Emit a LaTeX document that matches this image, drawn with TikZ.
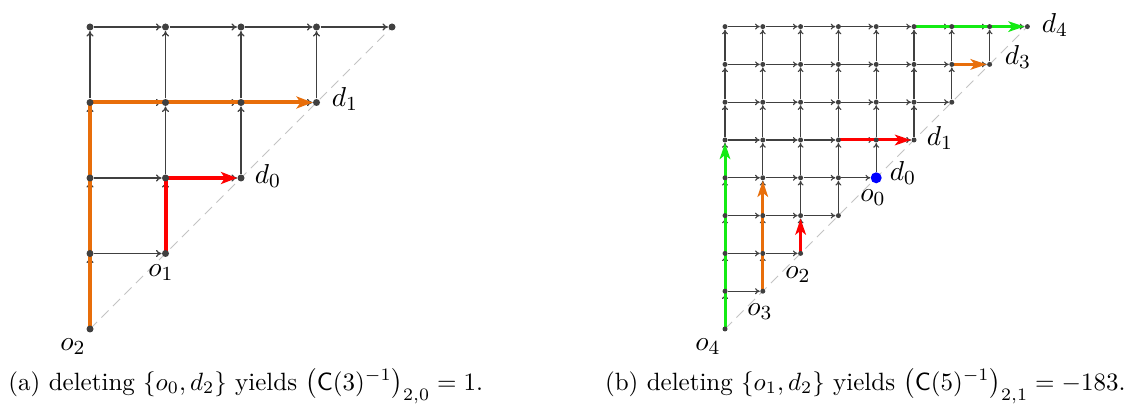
\documentclass[tikz,border=0pt]{standalone}
\usetikzlibrary{arrows.meta}
\pgfdeclarelayer{bg}
\pgfsetlayers{bg,main}
\definecolor{edgegray}{RGB}{64,64,64}
\definecolor{diaggray}{RGB}{195,195,195}
\definecolor{myorange}{RGB}{232,110,10}
\definecolor{mygreen}{RGB}{20,235,20}
\begin{document}
\begin{tikzpicture}[x=0.4pt,y=-0.4pt,
  dotL/.style={circle, fill=edgegray, inner sep=0pt, minimum size=2.8pt},
  dotR/.style={circle, fill=edgegray, inner sep=0pt, minimum size=2pt},
  bluedot/.style={circle, fill=blue, inner sep=0pt, minimum size=4.4pt},
  edgeL/.style={draw=edgegray, line width=0.5pt, -{To[length=2.2pt,width=2.8pt]}},
  edgeR/.style={draw=edgegray, line width=0.45pt, -{To[length=1.9pt,width=2.4pt]}},
  pathL/.style={line width=1.6pt, -{Stealth[length=6.4pt,width=4.8pt,inset=1.6pt]}},
  pathR/.style={line width=1.2pt, -{Stealth[length=6.4pt,width=4.2pt,inset=1.6pt]}},
  diag/.style={draw=diaggray, line width=0.4pt, dash pattern=on 4pt off 2.5pt},
  lab/.style={inner sep=0pt, font=\fontsize{11}{13}\selectfont},
  captext/.style={inner sep=0pt, font=\fontsize{10}{12}\selectfont}
]
\useasboundingbox (0,0) rectangle (1133,405);
% ---------- left panel ----------
\foreach \j in {0,...,4}{
  \foreach \i in {0,...,\j}{
    \node[dotL] (L-\i-\j) at ({90+75.5*\i},{329-75.5*\j}) {};
  }
}
% ---------- right panel ----------
\foreach \j in {0,...,8}{
  \foreach \i in {0,...,\j}{
    \node[dotR] (R-\i-\j) at ({725+37.8*\i},{329-37.8*\j}) {};
  }
}
\node[bluedot] (R-4-4) at ({725+37.8*4},{329-37.8*4}) {};

\begin{pgfonlayer}{bg}
  \draw[diag] (L-0-0.center) -- (L-4-4.center);
  \draw[diag] (R-0-0.center) -- (R-8-8.center);
  \foreach \j in {1,...,4}{
    \pgfmathtruncatemacro{\jm}{\j-1}
    \foreach \i in {0,...,\jm}{
      \pgfmathtruncatemacro{\ip}{\i+1}
      \draw[edgeL] (L-\i-\j) -- (L-\ip-\j);
      \draw[edgeL] (L-\i-\jm) -- (L-\i-\j);
    }
  }
  \foreach \j in {1,...,8}{
    \pgfmathtruncatemacro{\jm}{\j-1}
    \foreach \i in {0,...,\jm}{
      \pgfmathtruncatemacro{\ip}{\i+1}
      \draw[edgeR] (R-\i-\j) -- (R-\ip-\j);
      \draw[edgeR] (R-\i-\jm) -- (R-\i-\j);
    }
  }
  % coloured paths
  \draw[pathL, myorange] (L-0-0.center) |- (L-3-3);
  \draw[pathL, red] (L-1-1.center) |- (L-2-2);
  \draw[pathR, mygreen] (R-0-0.center) -- (R-0-5);
  \draw[pathR, mygreen] (R-5-8.center) -- (R-8-8);
  \draw[pathR, myorange] (R-1-1.center) -- (R-1-4);
  \draw[pathR, myorange] (R-6-7.center) -- (R-7-7);
  \draw[pathR, red] (R-2-2.center) -- (R-2-3);
  \draw[pathR, red] (R-3-5.center) -- (R-5-5);
\end{pgfonlayer}

% labels left
\node[lab] (lo2) at (73,347) {$o_2$};
\node[lab] (lo1) at (161,273) {$o_1$};
\node[lab] (ld0) at (268,176) {$d_0$};
\node[lab] (ld1) at (345,99) {$d_1$};
% labels right
\node[lab] (rd4) at (1055,25) {$d_4$};
\node[lab] (rd3) at (1018,57) {$d_3$};
\node[lab] (rd1) at (940,138) {$d_1$};
\node[lab] (rd0) at (903,173) {$d_0$};
\node[lab] (ro0) at (873,198) {$o_0$};
\node[lab] (ro2) at (798,275) {$o_2$};
\node[lab] (ro3) at (760,312) {$o_3$};
\node[lab] (ro4) at (708,347) {$o_4$};

% captions
\node[captext, anchor=base west] (capA) at (8,390)
  {(a) deleting $\{o_0, d_2\}$ yields $\bigl(\mathsf{C}(3)^{-1}\bigr)_{2,0} = 1$.};
\node[captext, anchor=base east] (capB) at (1126,390)
  {(b) deleting $\{o_1, d_2\}$ yields $\bigl(\mathsf{C}(5)^{-1}\bigr)_{2,1} = -183$.};
\end{tikzpicture}
\end{document}
